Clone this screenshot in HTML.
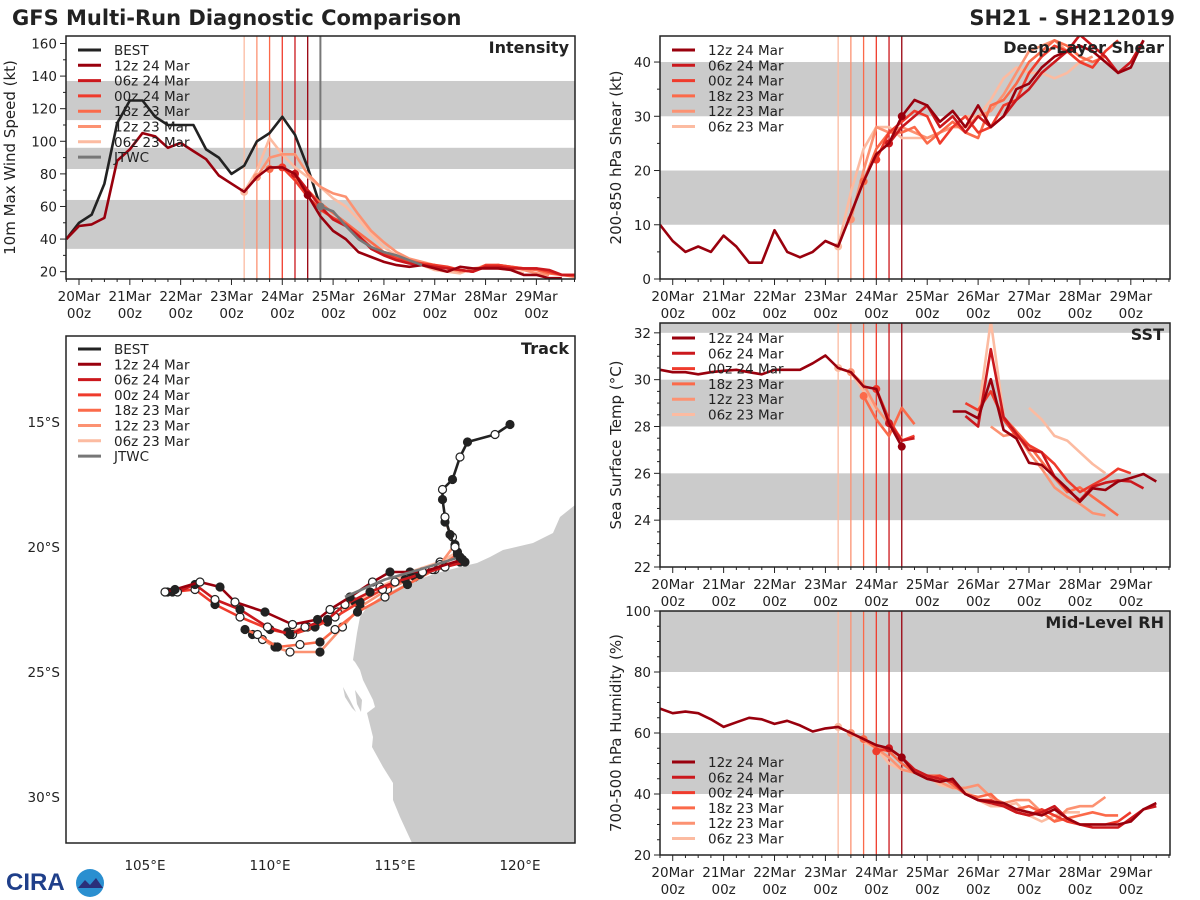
<!DOCTYPE html>
<html><head><meta charset="utf-8"><style>
html,body{margin:0;padding:0;background:#fff;}
svg{display:block;font-family:"DejaVu Sans","Liberation Sans",sans-serif;}
</style></head><body>
<svg id="fig" width="1200" height="900" viewBox="0 0 1200 900" xmlns="http://www.w3.org/2000/svg">
<text x="12" y="25" font-size="21" font-weight="bold" fill="#222">GFS Multi-Run Diagnostic Comparison</text>
<text x="1175" y="25" font-size="21" font-weight="bold" fill="#222" text-anchor="end">SH21 - SH212019</text>
<g>
<text x="6" y="890" font-size="24" font-weight="bold" fill="#1f3f8a" font-family="Liberation Sans, sans-serif">CIRA</text>
<circle cx="90" cy="883" r="14" fill="#2a8fd0"/>
<path d="M78 888 L85 880 L90 885 L96 878 L103 888 Z" fill="#2a2f7a"/>
</g>
</svg>
<script>
// ---------- data ----------
const runNames = ["12z 24 Mar","06z 24 Mar","00z 24 Mar","18z 23 Mar","12z 23 Mar","06z 23 Mar"];
const runColors = ["#99000d","#cb181d","#ef3b2c","#fb6a4a","#fc9272","#fcbba1"];
const runInit = [4.5,4.25,4.0,3.75,3.5,3.25];
const dayLabels = ["20Mar","21Mar","22Mar","23Mar","24Mar","25Mar","26Mar","27Mar","28Mar","29Mar"];

const bestIntStart = -0.25;
const bestInt = [40,50,55,74,111,125,125,115,110,110,110,95,90,80,85,100,105,115,104,84,60];
const jtwcIntStart = 4.75;
const jtwcInt = [60,57,48,40,35,32,30,27,24];
const intStart = [-0.25,4.25,4.0,3.75,3.5,3.25];
const int12z24 = [40,48,49,53,88,95,105,103,96,99,94,89,79,74,69,78,84,84,80,67,54,45,40,32,29,26,24,23,24,22,20,23,22,22,22,21,18,18,16,16];
const int06z24 = [80,70,60,52,48,42,34,30,27,25,24,23,22,21,20,23,23,22,22,22,21,18,18,17];
const int00z24 = [84,76,66,58,53,49,42,35,31,28,26,25,24,23,21,20,24,24,23,22,22,20,18,18];
const int18z23 = [83,85,78,70,62,56,50,44,38,32,29,27,25,24,22,21,20,23,24,23,22,21,19,18,17];
const int12z23 = [78,90,92,92,80,72,68,66,55,45,38,32,28,26,24,22,20,21,24,24,23,21,19,18];
const int06z23 = [69,82,102,92,84,78,72,65,60,52,43,35,30,27,24,21,20,19,22,23,22,21,19];

const shrStart = [-0.25,4.25,4.0,3.75,3.5,3.25];
const shr12z24 = [10,7,5,6,5,8,6,3,3,9,5,4,5,7,6,12,18,23,25,30,33,32,29,31,28,32,28,30,35,36,39,41,42,43,42,40,38,39,44];
const shr06z24 = [25,28,30,32,28,30,27,30,28,30,33,35,38,40,42,45,43,41,38,40,44];
const shr00z24 = [22,27,29,31,30,25,28,30,27,28,32,33,38,41,43,42,40,39,42,44];
const shr18z23 = [18,24,27,27,28,25,27,29,27,26,32,33,36,40,42,44,43,41,40,41];
const shr12z23 = [11,20,28,27,28,27,26,27,28,28,30,31,34,38,42,43,44,42,40,41];
const shr06z23 = [6,16,24,28,28,26,26,26,27,28,30,30,33,37,39,38,38,37,38,40];

const sstStart = [-0.25,4.25,4.0,3.75,3.5,3.25];
const sst12z24 = [30.42,30.32,30.32,30.23,30.32,30.38,30.42,30.32,30.23,30.42,30.42,30.42,30.70,31.03,30.50,30.32,29.71,29.6,28.14,27.14,null,null,null,28.64,28.64,28.35,30.02,27.85,27.49,26.45,26.36,25.86,25.36,24.79,25.36,25.29,25.65,25.8,25.97,25.65];
const sst06z24 = [28.14,27.4,27.5,null,null,null,28.45,28.0,31.3,28.4,27.7,27.0,26.9,25.86,25.3,24.85,25.43,25.6,25.7,25.65,25.36];
const sst00z24 = [29.6,28.3,27.4,27.6,null,null,null,29.0,28.7,29.5,28.3,27.6,27.2,26.9,26.4,25.7,25.2,25.5,25.8,26.2,26.0];
const sst18z23 = [29.3,28.3,27.6,28.8,28.1,null,null,null,null,null,29.5,28.4,27.8,27.2,26.5,25.8,25.2,25.4,25.0,24.6,24.2];
const sst12z23 = [30.32,29.8,28.8,28.1,27.5,null,null,null,null,null,null,28.0,27.6,27.7,26.9,26.2,25.4,25.0,24.7,24.3,24.2];
const sst06z23 = [30.5,30.3,29.5,28.7,null,null,null,null,null,null,null,28.5,32.5,28.5,null,28.8,28.3,27.6,27.4,26.9,26.4,26.0];

const rhStart = [-0.25,4.25,4.0,3.75,3.5,3.25];
const rh12z24 = [68,66.5,67,66.5,64.5,62,63.5,65,64.5,63,64,62.5,60.5,61.5,62,60,58,56,55,52,47,45,44,45,40,38,37.5,37,35,34,33,35,32,30,30,30,30,31,35,37];
const rh06z24 = [55,52,48,46,45,44,40,38,37,36,34,33,34,36,32,30,29,29,29,32,35,36];
const rh00z24 = [54,55,52,47,45,46,44,40,38,38,36,34,33,35,33,31,30,30,30,31,34];
const rh18z23 = [58,55,54,50,47,46,46,43,40,39,40,36,35,36,34,31,32,33,34,33,33];
const rh12z23 = [60,58,55,52,48,47,46,44,42,42,43,39,37,38,38,34,31,35,36,36,39];
const rh06z23 = [62,60,57,55,50,48,47,46,43,42,41,38,36,36,37,33,31,33,34,34];

const trackBest = [[119.6,15.1],[119.0,15.5],[117.9,15.8],[117.6,16.4],[117.3,17.3],[116.9,17.7],[116.9,18.1],[117.0,18.8],[117.2,19.5],[117.4,20.0],[117.6,20.4]];
const track12z24 = [[117.7,20.5],[116.1,21.0],[114.8,21.0],[114.1,21.4],[113.2,22.0],[112.4,22.5],[111.9,22.9],[110.9,23.1],[109.8,22.6],[108.6,22.2],[108.0,21.6],[107.2,21.4],[106.2,21.7],[105.8,21.8]];
const track06z24 = [[117.8,20.6],[117.0,20.8],[116.0,21.1],[115.0,21.4],[114.0,21.8],[113.0,22.3],[112.3,22.9],[111.4,23.2],[110.8,23.5],[109.9,23.2],[108.8,22.5],[107.8,22.1],[107.0,21.5],[106.3,21.8],[105.9,21.8]];
const track00z24 = [[117.6,20.6],[116.5,20.9],[115.4,21.3],[114.5,21.7],[113.6,22.2],[112.6,22.8],[111.8,23.2],[110.9,23.5],[110.0,23.3],[108.8,22.8],[107.8,22.3],[107.0,21.7],[106.1,21.8]];
const track18z23 = [[117.5,20.3],[116.6,20.9],[115.5,21.5],[114.6,22.0],[113.5,22.6],[112.6,23.3],[112.0,23.8],[111.2,23.9],[110.3,24.0],[109.5,23.5],[109.0,23.3]];
const track12z23 = [[117.4,19.9],[116.8,20.7],[115.8,21.2],[114.7,21.7],[113.6,22.4],[112.9,23.2],[112.0,24.2],[110.8,24.2],[110.2,24.0],[109.7,23.7],[109.3,23.5]];
const track06z23 = [[117.0,19.0],[117.3,19.6],[117.5,20.2],[116.8,20.6],[115.6,21.0],[114.4,21.6],[113.4,22.2],[112.7,22.6],[112.3,23.0],[111.5,23.2],[110.7,23.4]];
const trackJtwc = [[117.6,20.4],[116.0,20.9],[114.6,21.3],[113.9,21.6],[113.0,22.0]];
const lonTicks = [105,110,115,120];
const latTicks = [15,20,25,30];

// ---------- drawing ----------
const NS = "http://www.w3.org/2000/svg";
const svg = document.getElementById("fig");
function mk(tag, attrs, parent){
  const e = document.createElementNS(NS, tag);
  for (const k in attrs) e.setAttribute(k, attrs[k]);
  (parent||svg).appendChild(e);
  return e;
}
function txt(s, attrs, parent){ const e = mk("text", attrs, parent); e.textContent = s; return e; }

function timePanel(o){
  const g = mk("g", {});
  
  
  const X = t => o.x0 + (t - o.tmin) / (o.tmax - o.tmin) * (o.x1 - o.x0);
  const Y = v => o.y1 - (v - o.vmin) / (o.vmax - o.vmin) * (o.y1 - o.y0);
  const clip = mk("clipPath", {id: "clip-" + o.name}, g);
  mk("rect", {x: o.x0, y: o.y0, width: o.x1 - o.x0, height: o.y1 - o.y0}, clip);
  const inner = mk("g", {"clip-path": "url(#clip-" + o.name + ")"}, g);
  o.bands.forEach(b => {
    const top = Math.min(b[1], o.vmax + 5);
    const r = mk("rect", {x: o.x0, y: Y(top), width: o.x1 - o.x0, height: Y(b[0]) - Y(top), fill: "#cbcbcb"}, inner);
    
    
  });
  runInit.forEach((t, i) => {
    const l = mk("line", {x1: X(t), x2: X(t), y1: o.y0, y2: o.y1, stroke: runColors[i], "stroke-width": 1.3}, inner);
    
    
  });
  if (o.jtwcLine != null) {
    const l = mk("line", {x1: X(o.jtwcLine), x2: X(o.jtwcLine), y1: o.y0, y2: o.y1, stroke: "#777", "stroke-width": 2}, inner);
    
    
  }
  function series(start, vals, color, name, dotAt){
    let d = "", pen = false;
    vals.forEach((v, i) => {
      if (v == null) { pen = false; return; }
      d += (pen ? "L" : "M") + X(start + i * 0.25).toFixed(1) + " " + Y(v).toFixed(1);
      pen = true;
    });
    const p = mk("path", {d: d, fill: "none", stroke: color, "stroke-width": 2.6, "stroke-linejoin": "round"}, inner);
    
    
    if (dotAt != null) {
      const idx = Math.round((dotAt - start) / 0.25);
      if (vals[idx] != null) {
        const c = mk("circle", {cx: X(dotAt), cy: Y(vals[idx]), r: 4, fill: color}, inner);
        
        
      }
    }
  }
  if (o.best) series(o.best[0], o.best[1], "#222", "best-line", null);
  for (let i = o.runs.length - 1; i >= 0; i--) series(o.starts[i], o.runs[i], runColors[i], "run-" + i + "-line", runInit[i]);
  if (o.jtwc) series(o.jtwc[0], o.jtwc[1], "#777", "jtwc-line", o.jtwc[0]);
  mk("rect", {x: o.x0, y: o.y0, width: o.x1 - o.x0, height: o.y1 - o.y0, fill: "none", stroke: "#222", "stroke-width": 1.5}, g);
  for (let k = Math.ceil(o.tmin * 4); k <= o.tmax * 4; k++) {
    const t = k / 4, major = k % 4 === 0;
    mk("line", {x1: X(t), x2: X(t), y1: o.y1, y2: o.y1 + (major ? 6 : 3), stroke: "#222", "stroke-width": 1}, g);
  }
  dayLabels.forEach((s, i) => {
    const a = txt(s, {x: X(i), y: o.y1 + 22, "font-size": 13.5, "text-anchor": "middle", fill: "#222"}, g);
    
    
    const b = txt("00z", {x: X(i), y: o.y1 + 39, "font-size": 13.5, "text-anchor": "middle", fill: "#222"}, g);
    
    
  });
  for (let v = o.vmin0; v <= o.vmax + 1e-6; v += o.minor) {
    const q = (v - o.vmin0) / o.major;
    const major = Math.abs(q - Math.round(q)) < 1e-6;
    if (v < o.vmin - 1e-6) continue;
    mk("line", {x1: o.x0, x2: o.x0 - (major ? 6 : 3), y1: Y(v), y2: Y(v), stroke: "#222", "stroke-width": 1}, g);
    if (major) {
      const t = txt(String(Math.round(v)), {x: o.x0 - 9, y: Y(v) + 5, "font-size": 13.5, "text-anchor": "end", fill: "#222"}, g);
      
      
    }
  }
  const yl = txt(o.ylabel, {x: 0, y: 0, "font-size": 15, "text-anchor": "middle", fill: "#222", transform: "translate(" + o.ylx + "," + ((o.y0 + o.y1) / 2) + ") rotate(-90)"}, g);
  
  
  const tt = txt(o.title, {x: o.x1 - 6, y: o.y0 + 17, "font-size": 16, "font-weight": "bold", "text-anchor": "end", fill: "#222"}, g);
  
  
  legend(g, o.x0 + 12, o.ly, o.legendItems);
}
function legend(g, x, y, items){
  items.forEach((it, i) => {
    const yy = y + i * 15.3;
    const e = mk("g", {}, g);
    
    
    mk("line", {x1: x, x2: x + 23, y1: yy, y2: yy, stroke: it[1], "stroke-width": 3}, e);
    txt(it[0], {x: x + 36, y: yy + 5, "font-size": 13.5, fill: "#222"}, e);
  });
}
const runLegend = runNames.map((n, i) => [n, runColors[i]]);

timePanel({name: "intensity", x0: 66, x1: 575, y0: 36, y1: 279, tmin: -0.256, tmax: 9.76, vmin: 15.5, vmax: 164.6, vmin0: 20, major: 20, minor: 10,
  bands: [[34,64],[83,96],[113,137]], best: [bestIntStart, bestInt], jtwc: [jtwcIntStart, jtwcInt], jtwcLine: 4.75,
  runs: [int12z24,int06z24,int00z24,int18z23,int12z23,int06z23], starts: intStart,
  ylabel: "10m Max Wind Speed (kt)", ylx: 15, title: "Intensity", ly: 50,
  legendItems: [["BEST","#222"]].concat(runLegend).concat([["JTWC","#777"]])});
timePanel({name: "shear", x0: 660, x1: 1170, y0: 36, y1: 279, tmin: -0.25, tmax: 9.77, vmin: 0, vmax: 44.8, vmin0: 0, major: 10, minor: 5,
  bands: [[10,20],[30,40]], runs: [shr12z24,shr06z24,shr00z24,shr18z23,shr12z23,shr06z23], starts: shrStart,
  ylabel: "200-850 hPa Shear (kt)", ylx: 621, title: "Deep-Layer Shear", ly: 50, legendItems: runLegend});
timePanel({name: "sst", x0: 660, x1: 1170, y0: 323, y1: 567, tmin: -0.25, tmax: 9.77, vmin: 22, vmax: 32.42, vmin0: 22, major: 2, minor: 0.5,
  bands: [[24,26],[28,30],[32,40]], runs: [sst12z24,sst06z24,sst00z24,sst18z23,sst12z23,sst06z23], starts: sstStart,
  ylabel: "Sea Surface Temp (°C)", ylx: 621, title: "SST", ly: 338, legendItems: runLegend});
timePanel({name: "rh", x0: 660, x1: 1170, y0: 611, y1: 855, tmin: -0.25, tmax: 9.77, vmin: 20, vmax: 100, vmin0: 20, major: 20, minor: 5,
  bands: [[40,60],[80,100]], runs: [rh12z24,rh06z24,rh00z24,rh18z23,rh12z23,rh06z23], starts: rhStart,
  ylabel: "700-500 hPa Humidity (%)", ylx: 621, title: "Mid-Level RH", ly: 762, legendItems: runLegend});

// ---------- track map ----------
(function(){
  const x0 = 66, x1 = 575, y0 = 336, y1 = 843;
  const LX = lon => 145 + (lon - 105) * 25;
  const LY = lat => 422 + (lat - 15) * 25;
  const g = mk("g", {});
  
  
  const clip = mk("clipPath", {id: "clip-track"}, g);
  mk("rect", {x: x0, y: y0, width: x1 - x0, height: y1 - y0}, clip);
  const inner = mk("g", {"clip-path": "url(#clip-track)"}, g);
  const land = mk("path", {fill: "#cbcbcb", d: "M575 505 L560 517 L553 533 L533 543 L503 550 L490 557 L477 563 L460 567 L437 573 L403 585 L380 597 L367 607 L360 617 L357 633 L353 660 L355 662 L360 670 L363 680 L373 700 L375 707 L367 713 L373 737 L372 747 L383 767 L393 783 L393 800 L400 817 L412 843 L575 843 Z"}, inner);
  
  
  const isl = mk("path", {fill: "#cbcbcb", d: "M343 687 L350 700 L356 712 L352 708 L345 697 Z M355 690 L362 700 L361 712 L357 704 Z"}, inner);
  
  
  function trk(pts, color, name, dots){
    const d = pts.map((p, i) => (i ? "L" : "M") + LX(p[0]).toFixed(1) + " " + LY(p[1]).toFixed(1)).join("");
    const p = mk("path", {d: d, fill: "none", stroke: color, "stroke-width": 2.6, "stroke-linejoin": "round"}, inner);
    
    
    if (dots) pts.forEach((q, i) => {
      const c = mk("circle", {cx: LX(q[0]), cy: LY(q[1]), r: 4, fill: i % 2 ? "#fff" : "#222", stroke: "#222", "stroke-width": 1.2}, inner);
      
      
    });
  }
  const tracks = [track12z24, track06z24, track00z24, track18z23, track12z23, track06z23];
  for (let i = tracks.length - 1; i >= 0; i--) trk(tracks[i], runColors[i], "track-run-" + i, true);
  trk(trackJtwc, "#777", "track-jtwc", false);
  trk(trackBest, "#222", "track-best", true);
  mk("rect", {x: x0, y: y0, width: x1 - x0, height: y1 - y0, fill: "none", stroke: "#222", "stroke-width": 1.5}, g);
  lonTicks.forEach(l => {
    const t = txt(l + "°E", {x: LX(l), y: y1 + 27, "font-size": 13.5, "text-anchor": "middle", fill: "#222"}, g);
    
    
  });
  latTicks.forEach(l => {
    const t = txt(l + "°S", {x: x0 - 6, y: LY(l) + 5, "font-size": 13.5, "text-anchor": "end", fill: "#222"}, g);
    
    
  });
  const tt = txt("Track", {x: x1 - 6, y: y0 + 18, "font-size": 16, "font-weight": "bold", "text-anchor": "end", fill: "#222"}, g);
  
  
  legend(g, x0 + 12, 349, [["BEST","#222"]].concat(runLegend).concat([["JTWC","#777"]]));
})();
</script>
</body></html>
